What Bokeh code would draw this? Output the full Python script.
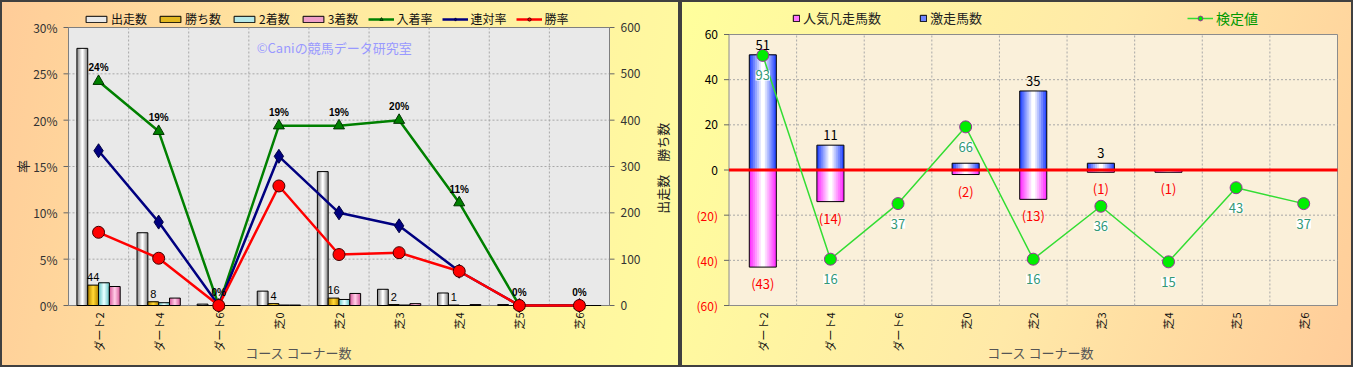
import math
from bokeh.plotting import figure
from bokeh.layouts import row
from bokeh.models import (ColumnDataSource, Range1d, Legend, LegendItem, LabelSet, Label)
from bokeh.core.properties import value
from bokeh.transform import dodge
from bokeh.embed import file_html
from bokeh.resources import INLINE

# ---------------- data ----------------
categories = ["ダート2", "ダート4", "ダート6", "芝0", "芝2", "芝3", "芝4", "芝5", "芝6"]
starts = [555, 157, 3, 31, 289, 35, 27, 2, 1]          # 出走数
wins = [44, 8, 0, 4, 16, 2, 1, 0, 0]                   # 勝ち数
seconds = [49, 6, 0, 1, 13, 1, 0, 0, 0]                # 2着数
thirds = [41, 16, 0, 1, 26, 4, 2, 0, 0]                # 3着数
place_rate = [24.2, 18.8, 0.0, 19.4, 19.4, 20.0, 11.1, 0.0, 0.0]     # 入着率 %
quinella_rate = [16.7, 9.0, 0.0, 16.1, 10.0, 8.6, 3.7, 0.0, 0.0]     # 連対率 %
win_rate = [7.9, 5.1, 0.0, 12.9, 5.5, 5.7, 3.7, 0.0, 0.0]            # 勝率 %
left_ticks = [0, 5, 10, 15, 20, 25, 30]
left_tick_labels = ["0%", "5%", "10%", "15%", "20%", "25%", "30%"]
right_ticks = [0, 100, 200, 300, 400, 500, 600]
right_tick_labels = ["0", "100", "200", "300", "400", "500", "600"]

longshot = [51, 11, 0, 3, 35, 3, 0, 0, 0]               # 激走馬数
longshot_labels = ["51", "11", "", "", "35", "3", "", "", ""]
fav_fail = [-43, -14, 0, -2, -13, -1, -1, 0, 0]         # 人気凡走馬数
test_vals = [93, 16, 37, 66, 16, 36, 15, 43, 37]        # 検定値
r_ticks = [-60, -40, -20, 0, 20, 40, 60]
r_tick_labels = ["(60)", "(40)", "(20)", "0", "20", "40", "60"]

JP = "Noto Sans CJK JP"
n = len(categories)
W1, W2, H = 680, 673, 367

# ---------------- layout constants (canvas px) ----------------
FT, FBOT = 2, H - 2          # frame top / bottom (whole canvas)
BOX_B = 305                  # plot-box bottom (both charts)
# left chart
L_FL, L_FR = 4, W1 - 4
L_BOXL, L_BOXR, L_BOXT = 68, 609, 27
pxu1 = (L_BOXR - L_BOXL) / n
ppu1 = (BOX_B - L_BOXT) / 30
x1_lo = -0.5 - (L_BOXL - L_FL) / pxu1
x1_hi = n - 0.5 + (L_FR - L_BOXR) / pxu1
y1_lo = -(FBOT - BOX_B) / ppu1
y1_hi = 30 + (L_BOXT - FT) / ppu1
cnt_per_pct = 600 / 30
# right chart
R_FL, R_FR = 4, W2 - 4
R_BOXL, R_BOXR, R_BOXT = 48.5, 657, 34
pxu2 = (R_BOXR - R_BOXL) / n
ppu2 = (BOX_B - R_BOXT) / 120
x2_lo = -0.5 - (R_BOXL - R_FL) / pxu2
x2_hi = n - 0.5 + (R_FR - R_BOXR) / pxu2
y2_lo = -60 - (FBOT - BOX_B) / ppu2
y2_hi = 60 + (R_BOXT - FT) / ppu2
t_lo, t_hi = -1.5, 100.9     # 検定値 scale at -60 / +60


def t_of(y):
    return t_lo + (y + 60) * (t_hi - t_lo) / 120


def mix(c1, c2, f):
    a = [int(c1[i:i + 2], 16) for i in (1, 3, 5)]
    b = [int(c2[i:i + 2], 16) for i in (1, 3, 5)]
    return "#%02x%02x%02x" % tuple(round(a[k] + (b[k] - a[k]) * f) for k in range(3))


def gradient_bars(p, src, x, top, bottom, width, edge, center, steps=6, icon=None, **kw):
    layers = []
    for k in range(steps):
        f = k / (steps - 1)
        w = width * (1 - 0.85 * k / (steps - 1))
        layers.append(p.vbar(x=x, top=top, bottom=bottom, width=w, source=src,
                             fill_color=mix(edge, center, f), line_color=None, **kw))
    outline = p.vbar(x=x, top=top, bottom=bottom, width=width, source=src,
                     fill_color=None, line_color="black", line_width=1, **kw)
    idx = steps // 2 - 1 if icon is None else icon
    return [layers[idx], outline]


def plot_box(p, lo, hi, fill, line, gticks):
    p.quad(left=-0.5, right=n - 0.5, bottom=lo, top=hi, fill_color=fill,
           line_color=line, line_width=1)
    bx = [i + 0.5 for i in range(n - 1)]
    p.segment(x0=bx, y0=lo, x1=bx, y1=hi, line_color="#A8A8A8", line_dash="2 2",
              line_width=1)
    p.segment(x0=-0.5, y0=gticks, x1=n - 0.5, y1=gticks, line_color="#A8A8A8",
              line_dash="2 2", line_width=1)


def x_labels(p, y0, title_x):
    p.add_layout(LabelSet(source=ColumnDataSource(dict(x=list(range(n)), y=[y0] * n,
                                                       t=categories)),
                          x="x", y="y", text="t", y_offset=-7, angle=math.pi / 2,
                          text_align="right", text_baseline="middle",
                          text_font=value(JP), text_font_size="11px", text_color="#111111"))
    p.add_layout(Label(x=title_x, y=y0, y_offset=-47, text="コース コーナー数", text_font=JP,
                       text_font_size="13px", text_color="#555555",
                       text_align="center", text_baseline="middle"))


def y_labels(p, ticks, labels, xpos, pxu, side, colors, **kw):
    sgn = -1 if side == "left" else 1
    p.scatter(x=[xpos + sgn * 2.5 / pxu] * len(ticks), y=ticks, marker="dash", size=5,
              line_color="#666666", line_width=1, **kw)
    data = dict(x=[xpos] * len(ticks), y=ticks, t=labels, c=colors)
    p.add_layout(LabelSet(source=ColumnDataSource(data), x="x", y="y", text="t",
                          x_offset=sgn * 11,
                          text_align="right" if side == "left" else "left",
                          text_baseline="middle", text_color="c",
                          text_font=value(JP), text_font_size="12px", **kw))


# ---------------- left chart ----------------
p1 = figure(width=W1, height=H, x_range=Range1d(x1_lo, x1_hi), y_range=Range1d(y1_lo, y1_hi),
            output_backend="svg", toolbar_location=None, title_location=None,
            x_axis_location=None, y_axis_location=None,
            min_border_left=L_FL, min_border_right=W1 - L_FR, min_border_top=FT,
            min_border_bottom=H - FBOT,
            background_fill_alpha=0, border_fill_alpha=0, outline_line_color=None)
p1.extra_y_ranges = {"cnt": Range1d(y1_lo * cnt_per_pct, y1_hi * cnt_per_pct)}
p1.styles = {"background": "linear-gradient(100deg, #FFCC99 0%, #FFE9A0 45%, #FFFBA0 100%)",
             "box-shadow": "inset 0 0 0 2px #404040"}
p1.grid.visible = False
plot_box(p1, 0, 30, "#E9E9E9", "#7F7F7F", [5, 10, 15, 20, 25])
y_labels(p1, left_ticks, left_tick_labels, -0.5, pxu1, "left", ["#333333"] * len(left_ticks))
y_labels(p1, right_ticks, right_tick_labels, n - 0.5, pxu1, "right",
         ["#333333"] * len(right_ticks), y_range_name="cnt")
p1.add_layout(Label(x=-0.5, x_offset=-46, y=15, text="率", angle=math.pi / 2, text_font=JP,
                    text_font_size="13px", text_color="#222222",
                    text_align="center", text_baseline="middle"))
p1.add_layout(Label(x=n - 0.5, x_offset=53, y=296, y_range_name="cnt", text="出走数　勝ち数",
                    angle=math.pi / 2, text_font=JP, text_font_size="13px",
                    text_color="#222222", text_align="center", text_baseline="middle"))
x_labels(p1, 0, 3.33)

src1 = ColumnDataSource(dict(
    x=list(range(n)), starts=starts, wins=wins, seconds=seconds, thirds=thirds,
    place=place_rate, quin=quinella_rate, win=win_rate,
    place_lbl=[f"{round(v)}%" for v in place_rate],
    wins_lbl=[str(v) if v > 0 else "" for v in wins]))

bw = 0.18
r_st = gradient_bars(p1, src1, dodge("x", -0.27, range=p1.x_range), "starts", 0, bw,
                     "#8C8C8C", "#FFFFFF", icon=4, y_range_name="cnt")
r_w = gradient_bars(p1, src1, dodge("x", -0.09, range=p1.x_range), "wins", 0, bw,
                    "#B88A00", "#FFD633", icon=3, y_range_name="cnt")
r_2 = gradient_bars(p1, src1, dodge("x", 0.09, range=p1.x_range), "seconds", 0, bw,
                    "#6CC8C8", "#E6FFFF", icon=3, y_range_name="cnt")
r_3 = gradient_bars(p1, src1, dodge("x", 0.27, range=p1.x_range), "thirds", 0, bw,
                    "#D8609F", "#FFC8E4", icon=3, y_range_name="cnt")

l_pl = p1.line("x", "place", source=src1, line_color="#008000", line_width=2.5)
s_pl = p1.scatter("x", "place", source=src1, marker="triangle", size=11,
                  fill_color="#008000", line_color="#003300")
l_q = p1.line("x", "quin", source=src1, line_color="#000080", line_width=2.5)
s_q = p1.scatter("x", "quin", source=src1, marker="diamond", size=14,
                 fill_color="#000080", line_color="#000040")
l_w = p1.line("x", "win", source=src1, line_color="#FF0000", line_width=2.5)
s_w = p1.scatter("x", "win", source=src1, marker="circle", size=12,
                 fill_color="#FF0000", line_color="#400000")

p1.add_layout(LabelSet(x="x", y="place", text="place_lbl", source=src1, y_offset=8,
                       text_align="center", text_baseline="bottom",
                       text_font=value("Liberation Sans"),
                       text_font_size="10px", text_font_style="bold", text_color="black"))
p1.add_layout(LabelSet(x=dodge("x", -0.09, range=p1.x_range), y="wins", y_range_name="cnt",
                       text="wins_lbl", source=src1, y_offset=4,
                       text_align="center", text_baseline="bottom",
                       text_font=value("Liberation Sans"),
                       text_font_size="11px", text_color="black"))
p1.add_layout(Label(x=3.92, y=27.8, text="©Caniの競馬データ研究室", text_font=JP,
                    text_font_size="13px", text_color="#9999FF",
                    text_align="center", text_baseline="middle"))

leg1 = Legend(items=[
    LegendItem(label="出走数", renderers=r_st),
    LegendItem(label="勝ち数", renderers=r_w),
    LegendItem(label="2着数", renderers=r_2),
    LegendItem(label="3着数", renderers=r_3),
    LegendItem(label="入着率", renderers=[l_pl, s_pl]),
    LegendItem(label="連対率", renderers=[l_q, s_q]),
    LegendItem(label="勝率", renderers=[l_w, s_w]),
], orientation="horizontal", location=(83 - L_FL, FBOT - 27), glyph_width=26, glyph_height=8,
    spacing=10, label_standoff=2, padding=0, margin=0,
    border_line_alpha=0, background_fill_alpha=0,
    label_text_font=JP, label_text_font_size="12px", label_text_color="#111111")
p1.add_layout(leg1)

# ---------------- right chart ----------------
p2 = figure(width=W2, height=H, x_range=Range1d(x2_lo, x2_hi), y_range=Range1d(y2_lo, y2_hi),
            output_backend="svg", toolbar_location=None, title_location=None,
            x_axis_location=None, y_axis_location=None,
            min_border_left=R_FL, min_border_right=W2 - R_FR, min_border_top=FT,
            min_border_bottom=H - FBOT,
            background_fill_alpha=0, border_fill_alpha=0, outline_line_color=None)
p2.extra_y_ranges = {"test": Range1d(t_of(y2_lo), t_of(y2_hi))}
p2.styles = {"background": "linear-gradient(110deg, #FFFF9C 0%, #FFE9A8 55%, #FFCC99 100%)",
             "box-shadow": "inset 0 0 0 2px #404040"}
p2.grid.visible = False
plot_box(p2, -60, 60, "#FAF0DA", "#8C8C8C", [-40, -20, 20, 40])
y_labels(p2, r_ticks, r_tick_labels, -0.5, pxu2, "left",
         ["#FF0000" if t < 0 else "#000000" for t in r_ticks])
x_labels(p2, -60, 4.11)

src2 = ColumnDataSource(dict(
    x=list(range(n)), pos=longshot, neg=fav_fail, test=test_vals,
    pos_lbl=longshot_labels,
    neg_lbl=[f"({-v})" if v < 0 else "" for v in fav_fail],
    test_lbl=[str(v) for v in test_vals]))

r_pos = gradient_bars(p2, src2, "x", "pos", 0, 0.4, "#2848FF", "#FFFFFF", steps=7)
r_neg = gradient_bars(p2, src2, "x", 0, "neg", 0.4, "#FF30FF", "#FFFFFF", steps=7)

p2.segment(x0=-0.5, y0=0, x1=n - 0.5, y1=0, line_color="#FF0000", line_width=3)

g_line = p2.line("x", "test", source=src2, y_range_name="test",
                 line_color="#33DD33", line_width=1.5)
g_sc = p2.scatter("x", "test", source=src2, y_range_name="test", marker="circle",
                  size=12, fill_color="#00EE00", line_color="#993399", line_width=1)

p2.add_layout(LabelSet(x="x", y="pos", text="pos_lbl", source=src2, y_offset=5,
                       text_align="center", text_baseline="bottom",
                       text_font=value(JP), text_font_size="13px", text_color="black"))
p2.add_layout(LabelSet(x="x", y="neg", text="neg_lbl", source=src2, y_offset=-7,
                       text_align="center", text_baseline="top",
                       text_font=value(JP), text_font_size="13px", text_color="#FF0000"))
p2.add_layout(LabelSet(x="x", y="test", y_range_name="test", text="test_lbl", source=src2,
                       y_offset=-20, text_align="center", text_baseline="middle",
                       text_font=value(JP), text_font_size="13px", text_color="#339977",
                       background_fill_color="white", background_fill_alpha=1))

legA = Legend(items=[
    LegendItem(label="人気凡走馬数", renderers=r_neg),
    LegendItem(label="激走馬数", renderers=r_pos),
], orientation="horizontal", location=(792 - W1 - R_FL, FBOT - 27), glyph_width=8,
    glyph_height=8, spacing=38, label_standoff=3, padding=0, margin=0,
    border_line_alpha=0, background_fill_alpha=0,
    label_text_font=JP, label_text_font_size="13px", label_text_color="#222222")
legB = Legend(items=[LegendItem(label="検定値", renderers=[g_line, g_sc])],
              orientation="horizontal", location=(1187 - W1 - R_FL, FBOT - 28),
              glyph_width=26, glyph_height=12,
              label_standoff=3, padding=0, margin=0,
              border_line_alpha=0, background_fill_alpha=0,
              label_text_font=JP, label_text_font_size="14px", label_text_color="#009900")
p2.add_layout(legA)
p2.add_layout(legB)

layout = row(p1, p2)
open("out.html", "w").write(file_html(layout, INLINE, title="chart"))
